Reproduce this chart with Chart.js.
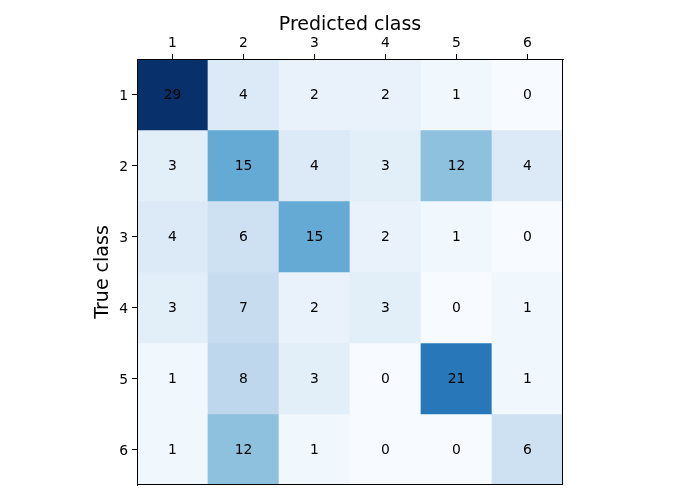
<!DOCTYPE html>
<html>
<head>
<meta charset="utf-8">
<script src="https://cdn.jsdelivr.net/npm/chart.js@4"></script>
<style>
  html, body { margin: 0; padding: 0; background: #fff; }
  #wrap { width: 700px; height: 500px; }
</style>
</head>
<body>
<div id="wrap"><canvas id="cm"></canvas></div>
<script>
// Confusion matrix values, rows = true class, columns = predicted class
const predictedLabels = ['1', '2', '3', '4', '5', '6'];
const trueLabels = ['1', '2', '3', '4', '5', '6'];
const row1 = [29, 4, 2, 2, 1, 0];
const row2 = [3, 15, 4, 3, 12, 4];
const row3 = [4, 6, 15, 2, 1, 0];
const row4 = [3, 7, 2, 3, 0, 1];
const row5 = [1, 8, 3, 0, 21, 1];
const row6 = [1, 12, 1, 0, 0, 6];
const rows = [row1, row2, row3, row4, row5, row6];

// matplotlib "Blues" colormap stops
const blues = ['#f7fbff', '#deebf7', '#c6dbef', '#9ecae1', '#6baed6',
               '#4292c6', '#2171b5', '#08519c', '#08306b'];
const hex = h => [1, 3, 5].map(i => parseInt(h.substr(i, 2), 16));
function bluesColor(t) {
    t = Math.max(0, Math.min(1, t));
    const pos = t * (blues.length - 1);
    const i = Math.min(Math.floor(pos), blues.length - 2);
    const f = pos - i;
    const a = hex(blues[i]), b = hex(blues[i + 1]);
    const c = a.map((v, k) => Math.round(v + (b[k] - v) * f));
    return `rgb(${c[0]},${c[1]},${c[2]})`;
}

const vmax = Math.max(...rows.flat());
const font = 'DejaVu Sans, sans-serif';

// Floating bars: each true-class row is one dataset spanning [r-0.5, r+0.5]
const datasets = rows.map((vals, r) => ({
    label: trueLabels[r],
    data: vals.map(() => [r + 0.5, r + 1.5]),
    counts: vals,
    backgroundColor: vals.map(v => bluesColor(v / vmax)),
    borderWidth: 0,
    borderSkipped: false,
    categoryPercentage: 1.0,
    barPercentage: 1.0
}));

// Cell text + frame round the plot
const cellText = {
    id: 'cellText',
    afterDatasetsDraw(chart) {
        const ctx = chart.ctx;
        ctx.save();
        ctx.font = '13.9px ' + font;
        ctx.fillStyle = '#000';
        ctx.textAlign = 'center';
        ctx.textBaseline = 'middle';
        chart.data.datasets.forEach((ds, di) => {
            chart.getDatasetMeta(di).data.forEach((bar, i) => {
                const p = bar.getProps(['x', 'y', 'base'], true);
                ctx.fillText(String(ds.counts[i]), p.x, (p.y + p.base) / 2 + 1);
            });
        });
        const a = chart.chartArea;
        ctx.strokeStyle = '#000';
        ctx.lineWidth = 1;
        ctx.strokeRect(Math.round(a.left) + 0.5, Math.round(a.top) + 0.5,
                       Math.round(a.right - a.left) - 1, Math.round(a.bottom - a.top) - 1);
        ctx.restore();
    }
};

new Chart(document.getElementById('cm'), {
    type: 'bar',
    data: { labels: predictedLabels, datasets: datasets },
    options: {
        responsive: true,
        maintainAspectRatio: false,
        animation: false,
        layout: { padding: { left: 88, right: 137, top: 10, bottom: 15 } },
        plugins: { legend: { display: false }, tooltip: { enabled: false } },
        scales: {
            x: {
                position: 'top',
                stacked: true,
                offset: true,
                afterFit: s => { s.height = 49; },
                grid: { drawOnChartArea: false, offset: false, tickLength: 5, color: '#000', tickWidth: 1 },
                border: { color: '#000' },
                ticks: { color: '#000', padding: 2, maxRotation: 0, font: { family: font, size: 13.9 } },
                title: { display: true, text: 'Predicted class', color: '#000', padding: 4,
                         font: { family: font, size: 19 } }
            },
            y: {
                type: 'linear',
                stacked: false,
                min: 0.5,
                max: 6.5,
                reverse: true,
                afterFit: s => { s.width = 49; },
                afterBuildTicks: axis => { axis.ticks = trueLabels.map((l, i) => ({ value: i + 1 })); },
                grid: { drawOnChartArea: false, tickLength: 5, color: '#000', tickWidth: 1 },
                border: { color: '#000' },
                ticks: {
                    color: '#000', padding: 4, labelOffset: 1.5, font: { family: font, size: 13.9 },
                    callback: (v, i) => trueLabels[i]
                },
                title: { display: true, text: 'True class', color: '#000', padding: 4,
                         font: { family: font, size: 19 } }
            }
        }
    },
    plugins: [cellText]
});
</script>
</body>
</html>
